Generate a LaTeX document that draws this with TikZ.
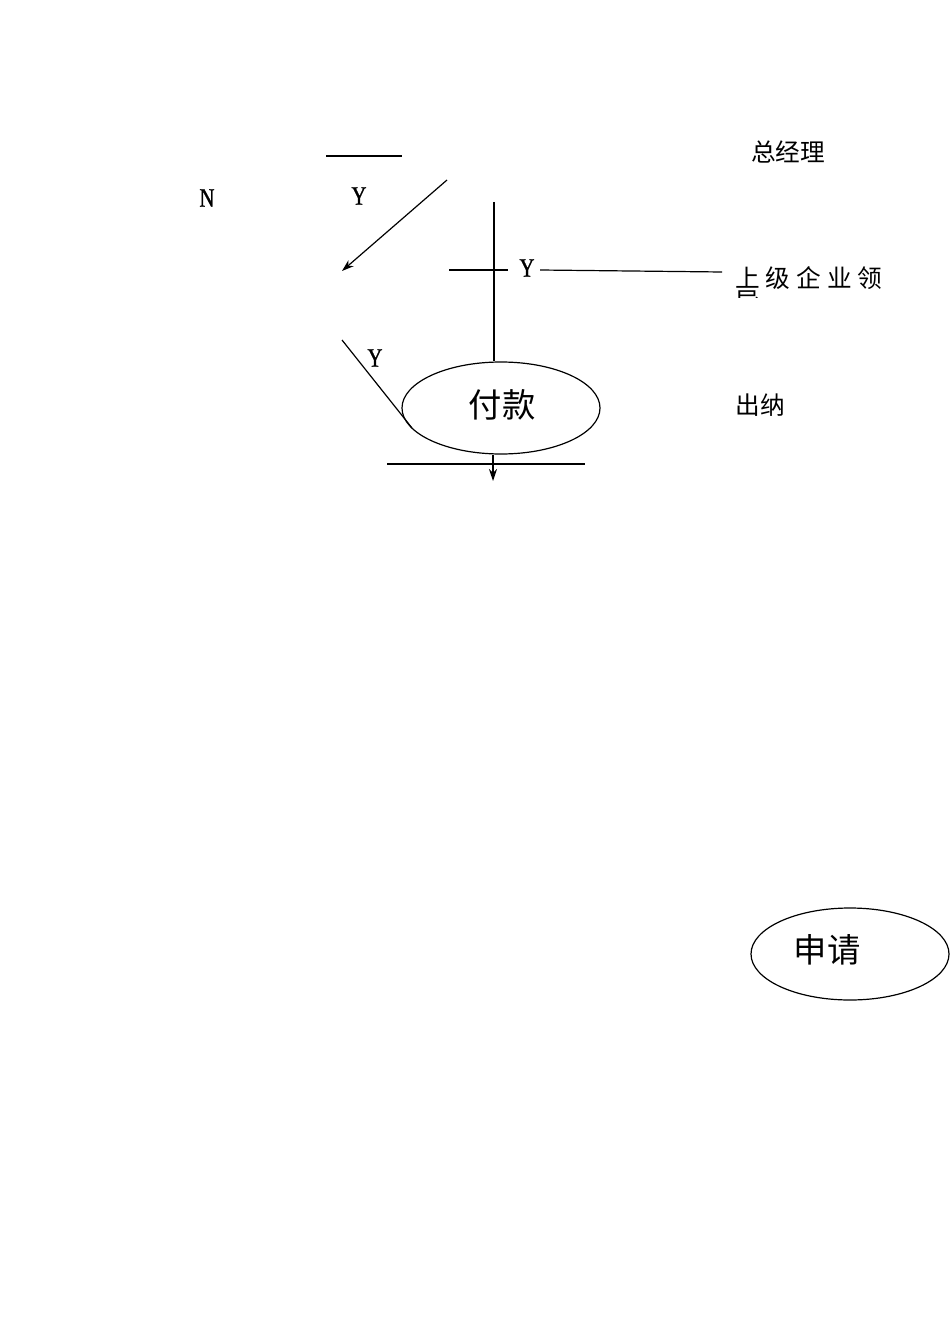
\documentclass[tikz,border=0pt]{standalone}
\usepackage{fontspec}
\newfontfamily\cjk{Noto Sans CJK SC}
\newfontfamily\latn[FakeStretch=0.78, FakeBold=1.2]{Liberation Serif}
\usetikzlibrary{shapes.geometric, arrows.meta}
\tikzset{
  ln/.style={draw=black, line width=0.9pt},
  yn/.style={font=\latn\fontsize{20}{20}\selectfont, inner sep=0pt},
  lbl/.style={font=\cjk\fontsize{18.5}{18.5}\selectfont, inner sep=0pt},
  big/.style={font=\cjk\fontsize{25}{25}\selectfont, inner sep=0pt},
  oval/.style={ellipse, draw=black, line width=0.9pt, minimum width=148.5pt, minimum height=69pt},
}
\begin{document}
\begin{tikzpicture}[x=0.75pt, y=-0.75pt]
\useasboundingbox (0,0) rectangle (950,1344);
% texts
\node[lbl] (zjl) at (788,152) {总经理};
\node[lbl] (cn) at (760,405) {出纳};
\node[yn] (n1) at (207,198) {N};
\node[yn] (y1) at (359,196) {Y};
\node[yn] (y2) at (527,268) {Y};
\node[yn] (y3) at (375,358) {Y};
\node[lbl, anchor=west] (sj) at (735,278) {上\hspace{4.5pt}级\hspace{4.5pt}企\hspace{4.5pt}业\hspace{4.5pt}领};
\begin{scope}
\clip (730,288) rectangle (760,298);
\node[lbl, anchor=west] (dao) at (735,302) {导};
\end{scope}
% ellipses
\node[oval] (fk) at (501,408) {};
\node[big] (fkt) at (502,405) {付款};
\node[oval] (sq) at (850,954) {};
\node[big] (sqt) at (827,950) {申请};
% lines
\coordinate (a1) at (326,156); \coordinate (a2) at (402,156);
\draw[ln] (a1) -- (a2);
\coordinate (b1) at (447,180); \coordinate (b2) at (342,271);
\draw[ln, -{Stealth[length=9pt, width=6pt]}] (b1) -- (b2);
\coordinate (c1) at (494,202);
\draw[ln] (c1) -- (fk.north -| c1);
\coordinate (d1) at (449,270); \coordinate (d2) at (508,270);
\draw[ln] (d1) -- (d2);
\coordinate (e1) at (540,270); \coordinate (e2) at (722,272);
\draw[ln] (e1) -- (e2);
\coordinate (f1) at (342,340); \coordinate (f2) at (412,428);
\draw[ln] (f1) -- (f2);
\coordinate (g1) at (387,464); \coordinate (g2) at (585,464);
\draw[black, line width=2pt] (g1) -- (g2);
\coordinate (h2) at (493,481);
\draw[ln, -{Stealth[length=9pt, width=6pt]}] (fk.south -| h2) -- (h2);
\end{tikzpicture}
\end{document}
